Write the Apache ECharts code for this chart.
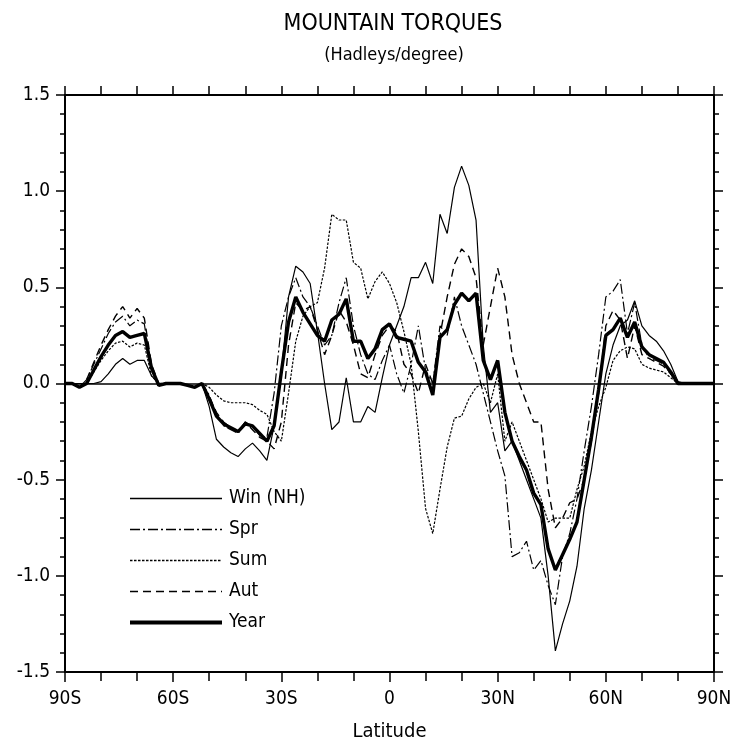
<!DOCTYPE html>
<html>
<head>
<meta charset="utf-8">
<script src="https://cdn.jsdelivr.net/npm/echarts@6/dist/echarts.min.js"></script>
<style>
  html, body { margin: 0; padding: 0; background: #fff; }
  #chart { width: 733px; height: 742px; }
</style>
</head>
<body>
<div id="chart"></div>
<script>
// Latitude grid (degrees, negative = south)
const lats = [
  -90, -88, -86, -84, -82, -80, -78, -76, -74, -72,
  -70, -68, -66, -64, -62, -60, -58, -56, -54, -52,
  -50, -48, -46, -44, -42, -40, -38, -36, -34, -32,
  -30, -28, -26, -24, -22, -20, -18, -16, -14, -12,
  -10, -8, -6, -4, -2, 0, 2, 4, 6, 8,
  10, 12, 14, 16, 18, 20, 22, 24, 26, 28,
  30, 32, 34, 36, 38, 40, 42, 44, 46, 48,
  50, 52, 54, 56, 58, 60, 62, 64, 66, 68,
  70, 72, 74, 76, 78, 80, 82, 84, 86, 88,
  90
];

// Mountain torque per degree latitude (Hadleys/degree)
const winNH = [
  0, 0, 0, 0, 0, 0.01, 0.05, 0.10, 0.13, 0.10,
  0.12, 0.12, 0.04, 0, 0, 0, 0, -0.01, -0.02, 0.0,
  -0.12, -0.29, -0.33, -0.36, -0.38, -0.34, -0.31, -0.35, -0.40, -0.22,
  0.05, 0.45, 0.61, 0.58, 0.52, 0.27, 0.0, -0.24, -0.20, 0.03,
  -0.20, -0.20, -0.12, -0.15, 0.03, 0.20, 0.30, 0.40, 0.55, 0.55,
  0.63, 0.52, 0.88, 0.78, 1.02, 1.13, 1.03, 0.85, 0.20, -0.15,
  -0.10, -0.35, -0.30, -0.40, -0.50, -0.60, -0.70, -1.00, -1.39, -1.25,
  -1.13, -0.95, -0.65, -0.45, -0.20, 0.05, 0.20, 0.30, 0.33, 0.43,
  0.30, 0.25, 0.22, 0.17, 0.10, 0.01, 0, 0, 0, 0,
  0
];
const spr = [
  0, 0, -0.02, 0.02, 0.10, 0.18, 0.26, 0.32, 0.35, 0.30,
  0.33, 0.31, 0.07, 0, 0, 0, 0, -0.01, -0.02, 0.0,
  -0.06, -0.16, -0.22, -0.24, -0.26, -0.20, -0.22, -0.27, -0.28, -0.05,
  0.30, 0.45, 0.55, 0.45, 0.40, 0.30, 0.20, 0.25, 0.42, 0.55,
  0.30, 0.15, 0.05, 0.02, 0.12, 0.20, 0.05, -0.05, 0.10, 0.30,
  0.07, 0.0, 0.30, 0.25, 0.45, 0.30, 0.20, 0.10, -0.05, -0.20,
  -0.35, -0.48, -0.90, -0.88, -0.82, -0.97, -0.92, -1.05, -1.15, -0.90,
  -0.78, -0.60, -0.35, -0.12, 0.15, 0.45, 0.48, 0.54, 0.26, 0.42,
  0.20, 0.13, 0.12, 0.10, 0.05, 0.0, 0, 0, 0, 0,
  0
];
const sum = [
  0, 0, -0.02, 0.0, 0.06, 0.12, 0.17, 0.21, 0.22, 0.19,
  0.21, 0.20, 0.04, 0, 0, 0, 0, -0.01, -0.02, 0.0,
  -0.02, -0.06, -0.09, -0.10, -0.10, -0.10, -0.11, -0.14, -0.16, -0.25,
  -0.30, -0.05, 0.22, 0.35, 0.40, 0.42, 0.60, 0.88, 0.85, 0.85,
  0.63, 0.60, 0.44, 0.53, 0.58, 0.52, 0.42, 0.27, 0.10, -0.25,
  -0.65, -0.78, -0.55, -0.33, -0.18, -0.17, -0.08, -0.02, 0.0, -0.10,
  0.05, -0.30, -0.20, -0.30, -0.40, -0.50, -0.60, -0.72, -0.70, -0.70,
  -0.70, -0.55, -0.43, -0.25, -0.12, -0.02, 0.12, 0.17, 0.19, 0.18,
  0.10, 0.08, 0.07, 0.06, 0.03, 0.0, 0, 0, 0, 0,
  0
];
const aut = [
  0, 0, -0.02, 0.02, 0.11, 0.20, 0.28, 0.35, 0.40, 0.34,
  0.39, 0.34, 0.10, 0.0, 0, 0, 0, -0.01, -0.02, 0.0,
  -0.07, -0.15, -0.20, -0.23, -0.25, -0.20, -0.24, -0.28, -0.30, -0.34,
  -0.20, 0.20, 0.42, 0.38, 0.40, 0.28, 0.15, 0.25, 0.38, 0.32,
  0.20, 0.05, 0.03, 0.15, 0.25, 0.30, 0.27, 0.10, 0.05, -0.05,
  0.10, 0.0, 0.25, 0.45, 0.62, 0.70, 0.66, 0.55, 0.20, 0.40,
  0.60, 0.45, 0.15, 0.0, -0.10, -0.20, -0.20, -0.55, -0.75, -0.70,
  -0.62, -0.60, -0.50, -0.30, -0.05, 0.30, 0.38, 0.33, 0.13, 0.30,
  0.15, 0.13, 0.11, 0.09, 0.05, 0.0, 0, 0, 0, 0,
  0
];
const year = [
  0, 0, -0.02, 0.0, 0.07, 0.14, 0.20, 0.25, 0.27, 0.24,
  0.25, 0.26, 0.08, -0.01, 0, 0, 0, -0.01, -0.02, 0.0,
  -0.08, -0.17, -0.21, -0.23, -0.25, -0.21, -0.22, -0.26, -0.30, -0.22,
  0.06, 0.32, 0.45, 0.37, 0.31, 0.25, 0.22, 0.33, 0.36, 0.44,
  0.22, 0.22, 0.13, 0.18, 0.28, 0.31, 0.24, 0.23, 0.22, 0.11,
  0.06, -0.06, 0.24, 0.28, 0.41, 0.47, 0.43, 0.47, 0.12, 0.02,
  0.12, -0.15, -0.30, -0.38, -0.45, -0.57, -0.63, -0.86, -0.97, -0.89,
  -0.81, -0.72, -0.50, -0.28, -0.03, 0.25, 0.28, 0.34, 0.24, 0.32,
  0.19, 0.15, 0.13, 0.11, 0.06, 0.0, 0, 0, 0, 0,
  0
];

// Axis tick labels
const latTicks = { '-90': '90S', '-60': '60S', '-30': '30S', '0': '0', '30': '30N', '60': '60N', '90': '90N' };

const font = "'DejaVu Sans Condensed', 'DejaVu Sans', sans-serif";

// line styles per season: [width, dash pattern]
const styles = {
  'Win (NH)': [1.2, 'solid'],
  'Spr': [1.2, [10, 3, 2, 3]],
  'Sum': [1.2, [2.5, 1.5]],
  'Aut': [1.4, [8, 5]],
  'Year': [3.4, 'solid']
};

function pairs(vals) {
  return lats.map((lat, i) => [lat, vals[i]]);
}

function lineSeries(name, vals) {
  const st = styles[name];
  return {
    name: name,
    type: 'line',
    data: pairs(vals),
    symbol: 'none',
    smooth: false,
    lineStyle: { color: '#000', width: st[0], type: st[1] },
    itemStyle: { color: '#000' },
    animation: false,
    silent: true
  };
}

const chart = echarts.init(document.getElementById('chart'), null, { renderer: 'canvas' });

const yearSeries = lineSeries('Year', year);
yearSeries.markLine = {
  silent: true,
  symbol: 'none',
  label: { show: false },
  lineStyle: { color: '#000', width: 1.6, type: 'solid' },
  data: [{ yAxis: 0 }]
};

const tickLine = { color: '#000', width: 1.5 };
const seasonNames = ['Win (NH)', 'Spr', 'Sum', 'Aut', 'Year'];

chart.setOption({
  backgroundColor: '#fff',
  animation: false,
  title: [
    {
      text: 'MOUNTAIN TORQUES',
      left: 388, textAlign: 'center', top: 8,
      textStyle: { fontFamily: font, fontSize: 23, fontWeight: 'normal', color: '#000' }
    },
    {
      text: '(Hadleys/degree)',
      left: 389, textAlign: 'center', top: 41,
      textStyle: { fontFamily: font, fontSize: 18, fontWeight: 'normal', color: '#000' }
    }
  ],
  legend: {
    orient: 'vertical',
    left: 128,
    top: 487,
    padding: 0,
    itemWidth: 92,
    itemHeight: 14,
    itemGap: 8,
    selectedMode: false,
    itemStyle: { opacity: 0 },
    textStyle: { fontFamily: font, fontSize: 19, color: '#000', lineHeight: 23, padding: [0, 0, 0, 2] },
    data: seasonNames.map(n => ({
      name: n,
      lineStyle: { color: '#000', width: styles[n][0] + (n === 'Year' ? 0.6 : 0.2), type: styles[n][1] }
    }))
  },
  grid: { left: 65, right: 19, top: 95, bottom: 70, containLabel: false, outerBoundsMode: 'none' },
  xAxis: [
    {
      type: 'value', position: 'bottom',
      min: -90, max: 90, interval: 30,
      name: 'Latitude', nameLocation: 'middle', nameGap: 50,
      nameTextStyle: { fontFamily: font, fontSize: 20, color: '#000' },
      axisLine: { show: true, onZero: false, lineStyle: { color: '#000', width: 2 } },
      axisTick: { show: true, inside: false, length: 10, lineStyle: tickLine },
      minorTick: { show: true, splitNumber: 3, length: 9, lineStyle: tickLine },
      splitLine: { show: false },
      axisLabel: {
        margin: 18, fontFamily: font, fontSize: 19, color: '#000',
        formatter: v => latTicks[String(v)] || ''
      }
    },
    {
      type: 'value', position: 'top',
      min: -90, max: 90, interval: 30,
      axisLine: { show: true, onZero: false, lineStyle: { color: '#000', width: 2 } },
      axisTick: { show: true, inside: false, length: 9, lineStyle: tickLine },
      minorTick: { show: true, splitNumber: 3, length: 9, lineStyle: tickLine },
      splitLine: { show: false },
      axisLabel: { show: false }
    }
  ],
  yAxis: [
    {
      type: 'value', position: 'left',
      min: -1.5, max: 1.5, interval: 0.5,
      axisLine: { show: true, onZero: false, lineStyle: { color: '#000', width: 2 } },
      axisTick: { show: true, inside: false, length: 9, lineStyle: tickLine },
      minorTick: { show: true, splitNumber: 5, length: 5, lineStyle: tickLine },
      splitLine: { show: false },
      axisLabel: {
        margin: 15, fontFamily: font, fontSize: 19, color: '#000',
        formatter: v => v.toFixed(1)
      }
    },
    {
      type: 'value', position: 'right',
      min: -1.5, max: 1.5, interval: 0.5,
      axisLine: { show: true, onZero: false, lineStyle: { color: '#000', width: 2 } },
      axisTick: { show: true, inside: false, length: 9, lineStyle: tickLine },
      minorTick: { show: true, splitNumber: 5, length: 5, lineStyle: tickLine },
      splitLine: { show: false },
      axisLabel: { show: false }
    }
  ],
  series: [
    lineSeries('Win (NH)', winNH),
    lineSeries('Spr', spr),
    lineSeries('Sum', sum),
    lineSeries('Aut', aut),
    yearSeries
  ]
});
</script>
</body>
</html>
